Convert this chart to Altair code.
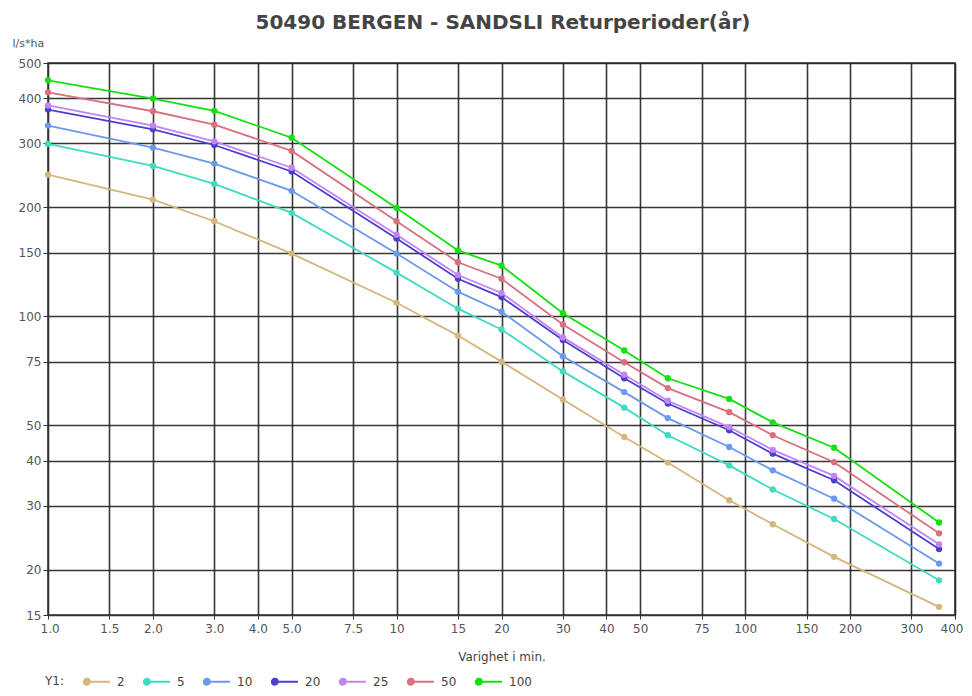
import altair as alt
import pandas as pd

durations = [1, 2, 3, 5, 10, 15, 20, 30, 45, 60, 90, 120, 180, 360]
series_names = ["2", "5", "10", "20", "25", "50", "100"]
y2 = [246, 210, 183, 149, 109, 88.5, 75, 59, 46.5, 39.5, 31.1, 26.7, 21.7, 15.8]
y5 = [299, 260, 232, 193, 132, 105, 92, 70.5, 56, 47, 38.8, 33.3, 27.6, 18.7]
y10 = [336, 292, 264, 222, 149, 117, 103, 77.6, 61.8, 52.4, 43.6, 37.6, 31.4, 20.8]
y20 = [372, 328, 297, 251, 164, 127, 113, 86, 67.5, 57.5, 48.5, 41.8, 35.3, 22.8]
y25 = [382, 336, 304, 257, 168, 130, 116, 87.5, 69, 58.5, 49.5, 42.8, 36.3, 23.5]
y50 = [415, 368, 338, 286, 183, 141, 127, 95, 74.7, 63.4, 54.4, 47, 39.6, 25.2]
y100 = [448, 399, 369, 311, 199, 152, 138, 102, 80.5, 67.5, 59.2, 51, 43.4, 27]
colors = ["#d4b77c", "#3fdcc0", "#6c98ee", "#4a3fcf", "#c384f7", "#d9707f", "#14e014"]

x_ticks = [1, 1.5, 2, 3, 4, 5, 7.5, 10, 15, 20, 30, 40, 50, 75, 100, 150, 200, 300, 400]
y_ticks = [15, 20, 30, 40, 50, 75, 100, 150, 200, 300, 400, 500]

title_text = "50490 BERGEN - SANDSLI Returperioder(år)"
legend_title = "Y1:"

rows = []
for name, vals in zip(series_names, [y2, y5, y10, y20, y25, y50, y100]):
    for d, v in zip(durations, vals):
        rows.append({"Varighet": d, "Verdi": v, "Serie": name})
df = pd.DataFrame(rows)

FONT = "DejaVu Sans"

x_enc = alt.X(
    "Varighet:Q",
    scale=alt.Scale(type="log", domain=[1, 400], nice=False),
    axis=alt.Axis(
        values=x_ticks,
        labelExpr="datum.value < 10 ? format(datum.value, '.1f') : format(datum.value, 'd')",
        title="Varighet i min.",
        titleFontWeight="normal",
        titleFontSize=12,
        titleColor="#444",
        titlePadding=17,
        labelFontSize=12,
        labelColor="#555",
        labelPadding=4,
        labelFlush=True,
        labelFlushOffset=8,
        tickSize=4,
        tickColor="#333",
        gridColor="#222",
        gridWidth=1.6,
        gridOpacity=0.9,
        domainColor="#333",
    ),
)
y_enc = alt.Y(
    "Verdi:Q",
    scale=alt.Scale(type="log", domain=[15, 500], nice=False),
    axis=alt.Axis(
        values=y_ticks,
        format="d",
        title="l/s*ha",
        titleAngle=0,
        titleAlign="left",
        titleBaseline="middle",
        titleX=-36,
        titleY=-20,
        titleFontWeight="normal",
        titleFontSize=11,
        titleColor="#555",
        labelFontSize=12,
        labelColor="#555",
        labelPadding=2,
        tickSize=5,
        tickColor="#333",
        gridColor="#222",
        gridWidth=1.6,
        gridOpacity=0.9,
        domainColor="#333",
    ),
)
color_enc = alt.Color(
    "Serie:N",
    sort=series_names,
    scale=alt.Scale(domain=series_names, range=colors),
    legend=alt.Legend(
        title="",
        orient="none",
        legendX=34,
        legendY=604,
        direction="horizontal",
        labelFontSize=12,
        labelColor="#444",
        columnPadding=14,
        symbolType="M-1,0L1,0M-0.5,0A0.22,0.22,0,1,1,-0.94,0A0.22,0.22,0,1,1,-0.5,0Z",
        symbolSize=720,
        symbolStrokeWidth=2,
        labelOffset=6,
    ),
)

base = alt.Chart(df).encode(x=x_enc, y=y_enc, color=color_enc, detail="Serie:N")
lines = base.mark_line(strokeWidth=1.8)
points = base.mark_point(filled=True, size=40, opacity=1)

title_layer = alt.Chart(pd.DataFrame({"t": [title_text]})).mark_text(
    fontSize=20, fontWeight="bold", color="#444", align="center", baseline="middle", font=FONT
).encode(x=alt.value(455), y=alt.value(-40), text="t:N")

legend_title_layer = alt.Chart(pd.DataFrame({"t": [legend_title]})).mark_text(
    fontSize=12, color="#444", align="left", baseline="middle", font=FONT
).encode(x=alt.value(-3), y=alt.value(618), text="t:N")

chart = (
    alt.layer(lines, points, title_layer, legend_title_layer)
    .properties(
        width=907,
        height=552,
        autosize=alt.AutoSizeParams(type="none"),
        padding={"left": 40, "top": 55, "right": 9, "bottom": 73},
    )
    .configure(font=FONT)
    .configure_view(stroke="#333", strokeWidth=1.5)
)

chart.save("out.html", embed_options={"renderer": "svg", "actions": False})
